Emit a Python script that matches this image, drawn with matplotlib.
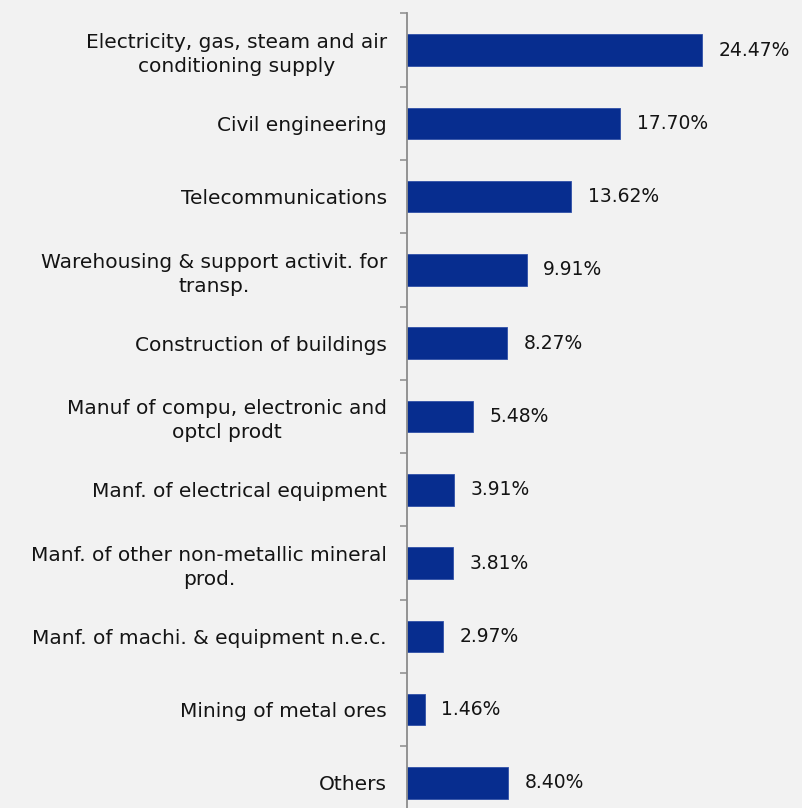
import matplotlib
matplotlib.use("Agg")
import matplotlib.pyplot as plt
import numpy as np

categories = [
    "Electricity, gas, steam and air\nconditioning supply",
    "Civil engineering",
    "Telecommunications",
    "Warehousing & support activit. for\ntransp.",
    "Construction of buildings",
    "Manuf of compu, electronic and\noptcl prodt",
    "Manf. of electrical equipment",
    "Manf. of other non-metallic mineral\nprod.",
    "Manf. of machi. & equipment n.e.c.",
    "Mining of metal ores",
    "Others",
]
shares = [24.47, 17.70, 13.62, 9.91, 8.27, 5.48, 3.91, 3.81, 2.97, 1.46, 8.40]
value_labels = ["24.47%", "17.70%", "13.62%", "9.91%", "8.27%", "5.48%",
                "3.91%", "3.81%", "2.97%", "1.46%", "8.40%"]

W, H = 802, 808
bg = "#f2f2f2"
bar_color = "#072d8f"
text_color = "#141414"
font = "DejaVu Sans"
fs_cat = 14.5
fs_val = 13.5

fig = plt.figure(figsize=(W / 100, H / 100), dpi=100, facecolor=bg)
# axes placed in pixel terms; the lower edge runs past the canvas
left_px, right_px = 407, 793
top_px, bottom_px = 13.4, 819.6
ax = fig.add_axes([left_px / W, (H - bottom_px) / H,
                   (right_px - left_px) / W, (bottom_px - top_px) / H])
ax.set_facecolor(bg)

n = len(categories)
y = np.arange(n)
ax.barh(y, shares, height=0.43, color=bar_color, edgecolor="#3050a8", linewidth=0.6)
ax.set_ylim(n - 0.5, -0.5)
ax.set_xlim(0, (right_px - left_px) / 12.06)

for yi, v, lab in zip(y, shares, value_labels):
    ax.annotate(lab, (v, yi), xytext=(12, 0), textcoords="offset points",
                ha="left", va="center", fontsize=fs_val, family=font, color=text_color)

for s in ["top", "right", "bottom"]:
    ax.spines[s].set_visible(False)
ax.spines["left"].set_color("#8c8c8c")
ax.spines["left"].set_linewidth(1.3)
ax.set_xticks([])

# category boundary tick marks
ax.set_yticks(np.arange(-0.5, n, 1.0))
ax.set_yticklabels([])
ax.tick_params(axis="y", which="major", direction="out", length=5, width=1.1, color="#8c8c8c")
ax.set_yticks(y, minor=True)
ax.set_yticklabels(categories, minor=True, fontsize=fs_cat, family=font, color=text_color)
ax.tick_params(axis="y", which="minor", length=0, pad=14.5)
for t in ax.get_yticklabels(minor=True):
    t.set_multialignment("center")
    t.set_linespacing(1.32)

fig.savefig("out.png", dpi=100, facecolor=bg)
